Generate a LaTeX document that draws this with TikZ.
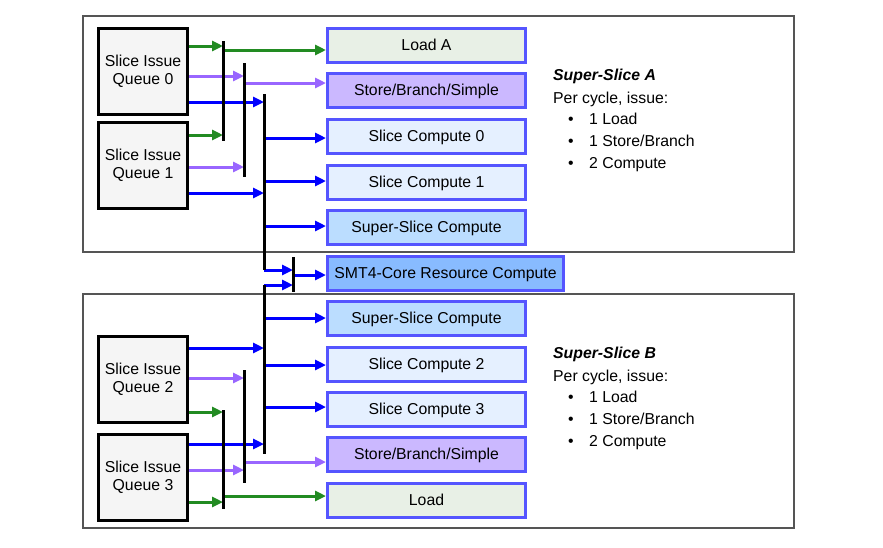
\documentclass[tikz,border=0pt]{standalone}
\usepackage{fontspec}
\setmainfont{Liberation Sans}
\usetikzlibrary{arrows.meta}
\definecolor{gArr}{HTML}{228B22}
\definecolor{pArr}{HTML}{9966FF}
\definecolor{bArr}{HTML}{0000FF}
\definecolor{boxBorder}{HTML}{5555FF}
\definecolor{loadFill}{HTML}{E8F0E6}
\definecolor{storeFill}{HTML}{CBB8FF}
\definecolor{sliceFill}{HTML}{E5F0FF}
\definecolor{superFill}{HTML}{BBDDFF}
\definecolor{smtFill}{HTML}{88BBFF}
\definecolor{frameGray}{HTML}{555555}
\definecolor{queueFill}{HTML}{F5F5F5}
\begin{document}
\begin{tikzpicture}[x=1pt,y=-1pt,
  font=\fontsize{15.8}{18}\selectfont,
  queue/.style={draw=black, line width=3pt, fill=queueFill, minimum width=89pt,
    minimum height=86pt, align=center, inner sep=0pt},
  unit/.style={draw=boxBorder, line width=3pt, minimum width=198pt, minimum height=34pt,
    inner sep=0pt, text height=13pt, text depth=3pt},
  frame/.style={draw=frameGray, line width=1.2pt},
  arr/.style={line width=3pt, -{Triangle[length=11pt,width=10pt]}},
  garr/.style={arr, color=gArr},
  parr/.style={arr, color=pArr},
  barr/.style={arr, color=bArr},
  bar/.style={draw=black, line width=3pt},
  side/.style={anchor=base west, inner sep=0pt},
  bul/.style={anchor=base, inner sep=0pt}]
\useasboundingbox (0,0) rectangle (883,547);

% frames
\draw[frame] (83,16) rectangle (794,252);
\draw[frame] (83,294) rectangle (794,528);

% queues
\node[queue] (q0) at (143,71.5) {Slice Issue\\Queue 0};
\node[queue] (q1) at (143,165) {Slice Issue\\Queue 1};
\node[queue] (q2) at (143,379) {Slice Issue\\Queue 2};
\node[queue] (q3) at (143,477.5) {Slice Issue\\Queue 3};

% units
\node[unit, fill=loadFill] (la) at (426.5,45) {Load A};
\node[unit, fill=storeFill] (sa) at (426.5,90.5) {Store/Branch/Simple};
\node[unit, fill=sliceFill] (c0) at (426.5,136.5) {Slice Compute 0};
\node[unit, fill=sliceFill] (c1) at (426.5,182) {Slice Compute 1};
\node[unit, fill=superFill] (ssa) at (426.5,227.5) {Super-Slice Compute};
\node[unit, fill=smtFill, minimum width=236pt] (smt) at (445.5,273) {SMT4-Core Resource Compute};
\node[unit, fill=superFill] (ssb) at (426.5,318) {Super-Slice Compute};
\node[unit, fill=sliceFill] (c2) at (426.5,364) {Slice Compute 2};
\node[unit, fill=sliceFill] (c3) at (426.5,409.5) {Slice Compute 3};
\node[unit, fill=storeFill] (sb) at (426.5,454) {Store/Branch/Simple};
\node[unit, fill=loadFill] (lb) at (426.5,500) {Load};

% bar coordinates
\coordinate (b1t) at (223,41);   \coordinate (b1b) at (223,141);
\coordinate (b2t) at (244,63);   \coordinate (b2b) at (244,177);
\coordinate (b3t) at (264,94);   \coordinate (b3b) at (264,270);
\coordinate (b4t) at (293,257);  \coordinate (b4b) at (293,292);
\coordinate (d3t) at (264,285);  \coordinate (d3b) at (264,454);
\coordinate (d2t) at (244,370);  \coordinate (d2b) at (244,483);
\coordinate (d1t) at (223,410);  \coordinate (d1b) at (223,509);

% top arrows
\draw[garr] (q0.east |- 0,46) -- (b1t |- 0,46);
\draw[parr] (q0.east |- 0,76) -- (b2t |- 0,76);
\draw[barr] (q0.east |- 0,102) -- (b3t |- 0,102);
\draw[garr] (q1.east |- 0,135) -- (b1t |- 0,135);
\draw[parr] (q1.east |- 0,167) -- (b2t |- 0,167);
\draw[barr] (q1.east |- 0,193) -- (b3t |- 0,193);
\draw[garr] (b1t |- 0,50) -- (la.west |- 0,50);
\draw[parr] (b2t |- 0,83) -- (sa.west |- 0,83);
\draw[barr] (b3t |- 0,138) -- (c0.west |- 0,138);
\draw[barr] (b3t |- 0,181) -- (c1.west |- 0,181);
\draw[barr] (b3t |- 0,226) -- (ssa.west |- 0,226);
\draw[barr] (b3b) -- (b4t |- b3b);
\draw[barr] (d3t) -- (b4t |- d3t);
\draw[barr] (b4t |- 0,275) -- (smt.west |- 0,275);

% bottom arrows
\draw[barr] (d3t |- 0,318) -- (ssb.west |- 0,318);
\draw[barr] (d3t |- 0,365) -- (c2.west |- 0,365);
\draw[barr] (d3t |- 0,407) -- (c3.west |- 0,407);
\draw[barr] (q2.east |- 0,348) -- (d3t |- 0,348);
\draw[parr] (q2.east |- 0,378) -- (d2t |- 0,378);
\draw[garr] (q2.east |- 0,412) -- (d1t |- 0,412);
\draw[barr] (q3.east |- 0,444) -- (d3t |- 0,444);
\draw[parr] (q3.east |- 0,470) -- (d2t |- 0,470);
\draw[garr] (q3.east |- 0,502) -- (d1t |- 0,502);
\draw[parr] (d2t |- 0,462) -- (sb.west |- 0,462);
\draw[garr] (d1t |- 0,496) -- (lb.west |- 0,496);

% bars
\draw[bar] (b1t) -- (b1b);
\draw[bar] (b2t) -- (b2b);
\draw[bar] (b3t) -- (b3b);
\draw[bar] (b4t) -- (b4b);
\draw[bar] (d3t) -- (d3b);
\draw[bar] (d2t) -- (d2b);
\draw[bar] (d1t) -- (d1b);

% side texts A
\node[side] (ta) at (553,80.5) {\bfseries\itshape Super-Slice A};
\node[side] (pa) at (553,103.5) {Per cycle, issue:};
\node[bul] (ua1) at (571,124.5) {•};
\node[bul] (ua2) at (571,146.5) {•};
\node[bul] (ua3) at (571,168.5) {•};
\node[side] (ia1) at (589,124.5) {1 Load};
\node[side] (ia2) at (589,146.5) {1 Store/Branch};
\node[side] (ia3) at (589,168.5) {2 Compute};

% side texts B
\node[side] (tb) at (553,358.5) {\bfseries\itshape Super-Slice B};
\node[side] (pb) at (553,381.5) {Per cycle, issue:};
\node[bul] (ub1) at (571,402.5) {•};
\node[bul] (ub2) at (571,424.5) {•};
\node[bul] (ub3) at (571,446.5) {•};
\node[side] (ib1) at (589,402.5) {1 Load};
\node[side] (ib2) at (589,424.5) {1 Store/Branch};
\node[side] (ib3) at (589,446.5) {2 Compute};
\end{tikzpicture}
\end{document}
